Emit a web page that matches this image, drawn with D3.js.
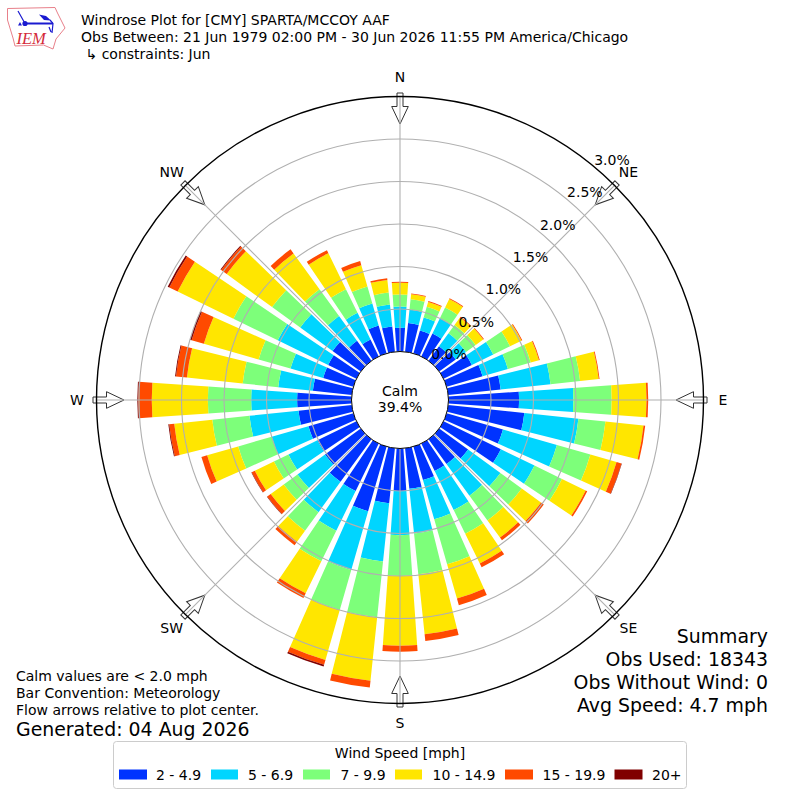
<!DOCTYPE html>
<html>
<head>
<meta charset="utf-8">
<script src="https://cdn.jsdelivr.net/npm/d3@7/dist/d3.min.js"></script>
<style>
  html, body { margin: 0; padding: 0; background: #fff; }
  svg { display: block; }
  text { font-family: "DejaVu Sans", sans-serif; fill: #000; }
</style>
</head>
<body>
<div id="chart"></div>
<script>
// percent of obs per direction, one list per speed bin
const directions = d3.range(0, 360, 10);
const speedLabels = ["2 - 4.9", "5 - 6.9", "7 - 9.9", "10 - 14.9", "15 - 19.9", "20+"];
const speedColors = ["#0033ff", "#00d5ff", "#7dff7a", "#ffe600", "#ff4a00", "#800000"];

const bin2to5 = [.28,.34,.28,.30,.21,.24,.37,.44,.62,.83,.90,.69,.75,.42,.36,.36,.41,.48,
                 .50,.65,.79,.62,.62,.52,.51,.55,.63,.64,.46,.37,.37,.41,.29,.22,.34,.30];
const bin5to7 = [.25,.16,.16,.20,.19,.15,.28,.31,.59,.64,.64,.66,.44,.47,.46,.51,.48,.53,
                 .52,.69,.72,.52,.44,.40,.38,.45,.58,.54,.41,.40,.66,.47,.36,.35,.27,.26];
const bin7to10 = [.14,.12,.13,.14,.12,.14,.22,.28,.35,.45,.32,.41,.36,.31,.36,.31,.55,.48,
                  .48,.66,.49,.40,.27,.20,.19,.41,.44,.51,.42,.39,.58,.41,.39,.31,.21,.14];
const bin10to15 = [.14,.06,.06,.11,.11,.11,.15,.10,.22,.41,.45,.32,.31,.28,.25,.39,.42,.71,
                   .82,.75,.61,.42,.16,.19,.25,.38,.45,.66,.66,.67,.73,.66,.52,.47,.26,.15];
const bin15to20 = [.01,.01,.01,.01,.01,.01,.01,.01,.01,.02,.02,.06,.02,.04,.04,.05,.08,.08,
                   .07,.08,.06,.06,.05,.05,.04,.07,.06,.16,.13,.15,.11,.08,.06,.04,.05,.02];
const bin20up = [0,0,0,0,0,0,0,0,0,0,0,.005,0,0,0,0,0,0,
                 0,0,.02,0,0,.005,.005,0,.01,.01,.01,.02,.02,.01,0,0,0,0];
const speedBins = [bin2to5, bin5to7, bin7to10, bin10to15, bin15to20, bin20up];

const radialTicks = [0, 0.5, 1, 1.5, 2, 2.5, 3];
const compassLabels = ["N", "NE", "E", "SE", "S", "SW", "W", "NW"];
const titleLines = [
  "Windrose Plot for [CMY] SPARTA/MCCOY AAF",
  "Obs Between: 21 Jun 1979 02:00 PM - 30 Jun 2026 11:55 PM America/Chicago",
  " \u21b3 constraints: Jun"
];
const summaryLines = ["Summary", "Obs Used: 18343", "Obs Without Wind: 0", "Avg Speed: 4.7 mph"];
const noteLines = ["Calm values are < 2.0 mph", "Bar Convention: Meteorology", "Flow arrows relative to plot center."];

const svg = d3.select("#chart").append("svg").attr("width", 800).attr("height", 800);

// polar scales
const cx = 400, cy = 400;
const rScale = d3.scaleLinear().domain([0, 3]).range([48.5, 303.5]);
const toRad = d3.scaleLinear().domain([0, 360]).range([0, 2 * Math.PI]);
const barWidth = 8; // degrees

const plot = svg.append("g").attr("transform", `translate(${cx},${cy})`);

// bars, stacked outwards
const arc = d3.arc();
directions.forEach((dir, i) => {
  let base = 0;
  speedBins.forEach((bin, j) => {
    const v = bin[i];
    if (v > 0) {
      plot.append("path")
        .attr("d", arc({
          innerRadius: rScale(base),
          outerRadius: rScale(base + v),
          startAngle: toRad(dir - barWidth / 2),
          endAngle: toRad(dir + barWidth / 2)
        }))
        .attr("fill", speedColors[j]);
    }
    base += v;
  });
});

// arrows pointing at center
const arrowShape = [[-3, -307], [3, -307], [3, -293.5], [8.3, -293.5], [0, -276], [-8.3, -293.5], [-3, -293.5]];
d3.range(0, 360, 45).forEach(a => {
  plot.append("polygon")
    .attr("points", arrowShape.map(p => p.join(",")).join(" "))
    .attr("transform", `rotate(${a})`)
    .attr("fill", "#fff")
    .attr("stroke", "#333")
    .attr("stroke-width", 1);
});

// grid on top of the bars
radialTicks.slice(1, -1).forEach(t => {
  plot.append("circle")
    .attr("r", rScale(t))
    .attr("fill", "none")
    .attr("stroke", "#b0b0b0")
    .attr("stroke-width", 1.1);
});
d3.range(0, 360, 45).forEach(a => {
  const ang = toRad(a);
  plot.append("line")
    .attr("x1", rScale(0) * Math.sin(ang))
    .attr("y1", -rScale(0) * Math.cos(ang))
    .attr("x2", rScale(3) * Math.sin(ang))
    .attr("y2", -rScale(3) * Math.cos(ang))
    .attr("stroke", "#b0b0b0")
    .attr("stroke-width", 1.1);
});

// outer ring and calm circle
plot.append("circle")
  .attr("r", rScale(3))
  .attr("fill", "none")
  .attr("stroke", "#000")
  .attr("stroke-width", 1.4);
plot.append("circle")
  .attr("r", rScale(0))
  .attr("fill", "#fff")
  .attr("stroke", "#000")
  .attr("stroke-width", 1);

plot.append("text").attr("y", -9).attr("dy", "0.35em").attr("text-anchor", "middle")
  .attr("font-size", 14).text("Calm");
plot.append("text").attr("y", 7.5).attr("dy", "0.35em").attr("text-anchor", "middle")
  .attr("font-size", 14).text("39.4%");

// radial tick labels
const rLabelX = d3.scaleLinear().domain([0, 3]).range([449, 612]);
const rLabelY = d3.scaleLinear().domain([0, 3]).range([354, 160]);
radialTicks.forEach(t => {
  svg.append("text")
    .attr("x", rLabelX(t))
    .attr("y", rLabelY(t))
    .attr("dy", "0.35em")
    .attr("text-anchor", "middle")
    .attr("font-size", 14)
    .text(d3.format(".1f")(t) + "%");
});

// compass labels
compassLabels.forEach((name, i) => {
  const ang = toRad(i * 45);
  plot.append("text")
    .attr("x", 323 * Math.sin(ang))
    .attr("y", -323 * Math.cos(ang))
    .attr("dy", "0.35em")
    .attr("text-anchor", "middle")
    .attr("font-size", 14)
    .text(name);
});

// title block
titleLines.forEach((line, i) => {
  svg.append("text")
    .attr("x", 81)
    .attr("y", 25 + i * 17.2)
    .attr("font-size", 14)
    .style("white-space", "pre")
    .text(line);
});

// summary, lower right
summaryLines.forEach((line, i) => {
  svg.append("text")
    .attr("x", 768)
    .attr("y", 642.5 + i * 23.2)
    .attr("text-anchor", "end")
    .attr("font-size", 18.9)
    .text(line);
});

// notes, lower left
noteLines.forEach((line, i) => {
  svg.append("text")
    .attr("x", 16)
    .attr("y", 681 + i * 17)
    .attr("font-size", 14)
    .text(line);
});
svg.append("text").attr("x", 16).attr("y", 735.5).attr("font-size", 18.9).text("Generated: 04 Aug 2026");

// legend
const legend = svg.append("g");
legend.append("rect")
  .attr("x", 113.5).attr("y", 741.5).attr("width", 573).attr("height", 47).attr("rx", 3)
  .attr("fill", "#fff").attr("stroke", "#ccc");
legend.append("text").attr("x", 400).attr("y", 758).attr("text-anchor", "middle")
  .attr("font-size", 14).text("Wind Speed [mph]");
const swatchX = [119, 211, 303, 395, 505, 614.5];
const swatchW = [28, 27, 27, 27, 28, 28];
const labelX = [156, 248, 340.5, 432.5, 542.5, 652];
speedLabels.forEach((label, i) => {
  legend.append("rect")
    .attr("x", swatchX[i]).attr("y", 769.5).attr("width", swatchW[i]).attr("height", 10)
    .attr("fill", speedColors[i]);
  legend.append("text")
    .attr("x", labelX[i]).attr("y", 779.5)
    .attr("font-size", 14).text(label);
});

// IEM logo
const logo = svg.append("g");
logo.append("path")
  .attr("d", "M7.5,8.5 L55,7.5 L57.5,13 L65,28 L56,39 L53,49 L43.5,45 L15,46 L13,38 L7.5,20 Z")
  .attr("fill", "none").attr("stroke", "#e8808a").attr("stroke-width", 1);
logo.append("path")
  .attr("d", "M18,11 L25,23.5 M50,20 L53,23.5 L52,33 M49,27 L51,32")
  .attr("fill", "none").attr("stroke", "#1a1ad0").attr("stroke-width", 1.2);
logo.append("path")
  .attr("d", "M25,23.5 L53,23.5")
  .attr("fill", "none").attr("stroke", "#1a1ad0").attr("stroke-width", 2);
logo.append("path").attr("d", "M39,14.5 L46,16 L51,20.5 L44,20 Z").attr("fill", "#1a1ad0");
logo.append("circle").attr("cx", 25).attr("cy", 23.5).attr("r", 2.6).attr("fill", "#1a1ad0");
logo.append("path").attr("d", "M20,22 L22,25.5 L18,25.5 Z").attr("fill", "#1a1ad0");
logo.append("text")
  .attr("x", 16.5).attr("y", 44)
  .style("font-family", "'Liberation Serif', serif")
  .style("font-style", "italic")
  .style("fill", "#d42a3a")
  .attr("font-size", 16.5)
  .text("IEM");
</script>
</body>
</html>
